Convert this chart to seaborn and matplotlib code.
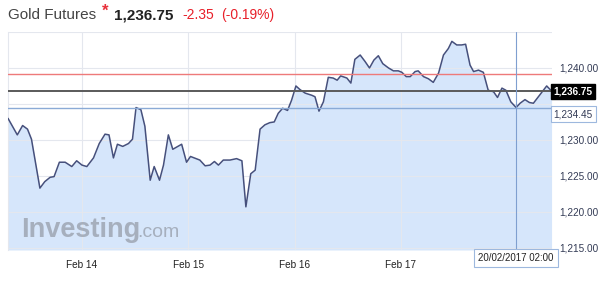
import matplotlib
matplotlib.use("Agg")
import matplotlib.pyplot as plt
import matplotlib.transforms as mtransforms
import seaborn as sns
import pandas as pd

# trading hours since Feb 14 00:00 (weekend collapsed: Feb 20 00:00 = 96)
hours = [-16.7, -14.6, -13.4, -12.3, -11.4, -9.5, -8.4, -7.2, -6.3, -5.1, -3.8, -2.3, -1.2, 0.0,
         1.1, 2.6, 3.9, 5.2, 6.1, 7.1, 8.0, 9.2, 10.5, 11.4, 12.2, 13.3, 14.2, 15.4, 16.3, 17.5,
         18.4, 19.5, 20.5, 22.5, 23.6, 24.5, 26.6, 27.8, 28.9, 29.9, 30.8, 31.9, 33.4, 34.9, 36.1,
         37.0, 38.1, 39.1, 40.2, 41.3, 42.4, 43.4, 44.3, 45.3, 46.4, 47.3, 48.3, 49.2,
         50.4, 51.9, 52.6, 53.5, 54.5, 55.6, 56.7, 57.6, 58.4, 59.8, 60.7, 61.6, 62.8, 63.9, 64.9,
         65.9, 66.9, 67.9, 69.2, 70.3, 71.4, 72.2, 73.2, 74.1, 75.2, 75.9, 77.1, 78.2, 79.3, 80.5,
         81.6, 82.7, 83.5, 84.6, 85.7, 86.6, 87.6, 88.4, 89.5, 90.6, 91.7, 92.9, 93.8, 94.8, 95.7,
         96.8, 98.0, 98.9, 100.0, 101.0, 101.9, 103.4, 104.9, 106.0]
prices = [1233.0, 1230.7, 1232.0, 1231.5, 1230.1, 1223.3, 1224.2, 1224.8, 1224.9, 1226.9, 1226.9,
          1226.3, 1227.1, 1226.5, 1226.3, 1227.5, 1229.5, 1230.8, 1230.7, 1227.5, 1229.4, 1229.1,
          1229.5, 1230.1, 1234.5, 1234.2, 1231.9, 1224.4, 1226.3, 1224.4, 1226.5, 1230.7, 1228.7,
          1229.4, 1226.9, 1227.7, 1227.2, 1226.4, 1226.5, 1227.0, 1226.5, 1227.2, 1227.2, 1227.4,
          1227.1, 1220.7, 1225.3, 1225.8, 1231.5, 1232.1, 1232.4, 1232.5, 1233.7, 1234.4, 1234.1,
          1235.5, 1237.5, 1237.0,
          1236.5, 1236.2, 1236.0, 1234.0, 1235.3, 1238.7, 1238.6, 1238.3, 1238.9, 1238.6, 1237.9,
          1241.2, 1241.8, 1240.9, 1240.0, 1241.1, 1241.7, 1240.6, 1240.0, 1239.6, 1239.6, 1239.4,
          1238.8, 1238.8, 1239.5, 1239.6, 1238.8, 1238.5, 1238.0, 1239.3, 1241.8, 1242.7, 1243.7,
          1243.2, 1243.2, 1243.3, 1240.4, 1239.5, 1239.7, 1239.4, 1236.9, 1236.7, 1235.9, 1237.2,
          1236.9, 1235.3, 1234.5, 1235.1, 1235.6, 1235.2, 1235.1, 1236.3, 1237.5, 1236.8]

day_ticks = [0, 24, 48, 72]
day_labels = ["Feb 14", "Feb 15", "Feb 16", "Feb 17"]
y_ticks = [1215, 1220, 1225, 1230, 1235, 1240, 1245]
y_labels = ["1,215.00", "1,220.00", "1,225.00", "1,230.00", "", "1,240.00", ""]
last_price = 1236.75
prev_close = 1239.10
low_price = 1234.45
cursor_hour = 98.0
cursor_label = "20/02/2017 02:00"
title_name = "Gold Futures"
change = "-2.35"
change_pct = "(-0.19%)"

sns.set_style("white")
plt.rcParams["font.family"] = ["Liberation Sans", "DejaVu Sans"]

df = pd.DataFrame({"hour": hours, "price": prices})

fig = plt.figure(figsize=(6, 2.85), dpi=100)
ax = fig.add_axes([8/600, 1-250/285, (552-8)/600, (250-32)/285])

ymin, ymax = 1214.7, 1245.0
ax.fill_between(df["hour"], df["price"], ymin, color="#d6e6fb", zorder=1, lw=0)
sns.lineplot(data=df, x="hour", y="price", ax=ax, color="#46507c", lw=1.1, zorder=4)

ax.set_xlim(-16.7, 106.1)
ax.set_ylim(ymin, ymax)
ax.set_xticks(day_ticks)
ax.set_xticklabels(day_labels)
ax.set_yticks(y_ticks)
ax.set_yticklabels(y_labels)
ax.yaxis.tick_right()
ax.tick_params(axis="both", length=0, labelsize=7.2, colors="#333b55")
ax.tick_params(axis="x", pad=7, colors="#222222")
ax.tick_params(axis="y", pad=5)
ax.grid(True, color="#e4e7ee", lw=0.8, zorder=2)
ax.set_axisbelow(False)
ax.set_xlabel("")
ax.set_ylabel("")
for side in ["top", "right", "bottom"]:
    ax.spines[side].set_visible(False)
ax.spines["left"].set_color("#e4e7ee")

ax.axhline(prev_close, color="#ee7a7a", lw=1.0, zorder=5)
ax.axhline(last_price, color="#5a5a5a", lw=1.4, zorder=5)
ax.axhline(low_price, color="#8aaad6", lw=1.0, zorder=5)
ax.axvline(cursor_hour, color="#7f9fd0", lw=0.8, zorder=5)

trans = mtransforms.blended_transform_factory(ax.transAxes, ax.transData)
ax.text(1.003, last_price, f"{last_price:,.2f}", transform=trans, ha="left", va="center",
        fontsize=7.2, color="white", fontweight="bold",
        bbox=dict(boxstyle="square,pad=0.25", fc="black", ec="black"), zorder=10, clip_on=False)
ax.text(1.003, low_price - 0.9, f"{low_price:,.2f}", transform=trans, ha="left", va="center",
        fontsize=7.2, color="#333b55",
        bbox=dict(boxstyle="square,pad=0.3", fc="white", ec="#9db8de", lw=0.8), zorder=10,
        clip_on=False)

transx = mtransforms.blended_transform_factory(ax.transData, fig.transFigure)
ax.text(cursor_hour, 1-258/285, cursor_label, transform=transx, ha="center", va="center",
        fontsize=7, color="#222222",
        bbox=dict(boxstyle="square,pad=0.45", fc="white", ec="#9db8de", lw=0.8), zorder=10,
        clip_on=False)

# watermark
ax.text(0.025, 0.06, "Investing", transform=ax.transAxes, fontsize=19.5, fontweight="bold",
        color="#9ea6b3", alpha=0.85, ha="left", va="baseline", zorder=3)
ax.text(0.238, 0.06, ".com", transform=ax.transAxes, fontsize=14,
        color="#9ea6b3", alpha=0.85, ha="left", va="baseline", zorder=3)

# header
fy = 1-15/285
fig.text(8/600, fy, title_name, fontsize=11, color="#444444", va="center", ha="left")
fig.text(102/600, fy+0.012, "*", fontsize=12, color="#e8303a", va="center", ha="left",
         fontweight="bold")
fig.text(114/600, fy, f"{last_price:,.2f}", fontsize=11, color="#222222", va="center",
         ha="left", fontweight="bold")
fig.text(182/600, fy, change, fontsize=10, color="#e8202a", va="center", ha="left")
fig.text(221/600, fy, change_pct, fontsize=10, color="#e8202a", va="center", ha="left")

fig.savefig("out.png", dpi=100)
